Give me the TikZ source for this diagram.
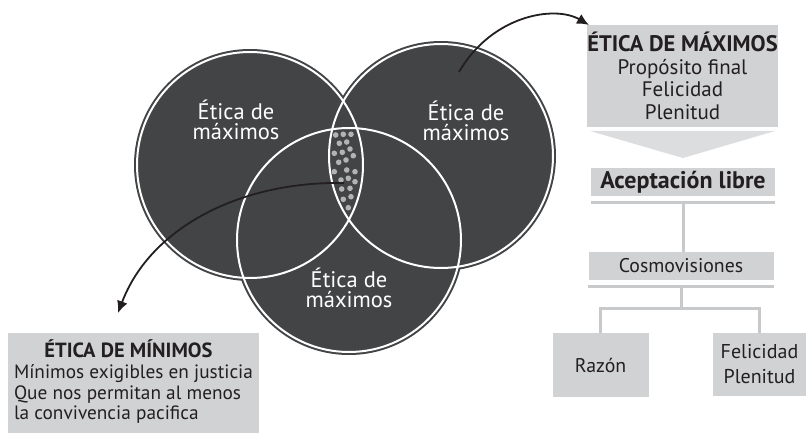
\documentclass[tikz,border=0pt]{standalone}
\usepackage{fontspec}
\setmainfont{PT Sans}
\usetikzlibrary{arrows.meta}
\definecolor{dark}{HTML}{434446}
\definecolor{boxg}{HTML}{D1D2D4}
\definecolor{lineg}{HTML}{C8C9CB}
\definecolor{chev}{HTML}{DCDDDE}
\definecolor{dotg}{HTML}{B2B3B5}
\definecolor{ink}{HTML}{231F20}
\newcommand{\bt}[2][22.5]{{\fontsize{#1}{21}\selectfont\bfseries #2}}
\begin{document}
\begin{tikzpicture}[x=1pt,y=-1pt,
  font=\fontsize{19.8}{20.7}\selectfont,
  gbox/.style={fill=boxg, inner sep=0pt, align=center, text=ink},
  treeline/.style={lineg, line width=3pt},
  curvearrow/.style={ink, line width=1.8pt, -{Latex[length=12pt,width=11pt]}},
  venntext/.style={text=white, align=center, font=\fontsize{22.5}{20.5}\selectfont},
  ring/.style={white, line width=2pt}]
\useasboundingbox (0,0) rectangle (806,433);
% circles
\coordinate (cL) at (250,165);
\coordinate (cR) at (441,156);
\coordinate (cB) at (349,240);
\fill[dark] (cL) circle (116);
\fill[dark] (cR) circle (115);
\fill[dark] (cB) circle (115);
\draw[ring] (cL) circle (113);
\draw[ring] (cR) circle (112);
\draw[ring] (cB) circle (112);
% dots
\foreach \p in {(335.7,135),(343.3,134.3),(351,134.3),
  (339.3,143.3),(346.7,142),
  (334.3,153.3),(342.3,152.3),(350,149),
  (338.7,162.3),(346,160),(353.3,155.7),
  (334.3,171.7),(346.7,170),(355,171.7),
  (341,180),(348.3,178.3),(355,181.7),
  (341.7,189),(350,188.3),
  (343.3,199.3),(351,196.7),
  (348.3,207.7)}
  \fill[dotg] \p circle (2.8);
% circle labels
\node[venntext] (tL) at (236,120) {Ética de\\máximos};
\node[venntext] (tR) at (466,121) {Ética de\\máximos};
\node[venntext] (tB) at (349,288) {Ética de\\máximos};
% top right box
\node[gbox, minimum width=185pt, minimum height=102pt, font=\fontsize{21}{22.5}\selectfont] (max) at (682.5,76)
  {\bt{ÉTICA DE MÁXIMOS}\\Propósito final\\Felicidad\\Plenitud};
\fill[chev] (590,131) -- (775,131) -- (683,158) -- cycle;
\node[gbox, minimum width=184pt, minimum height=28pt] (acc) at (683,182) {\bt[24]{Aceptación libre}};
\node[gbox, minimum width=185pt, minimum height=28pt] (cos) at (681,266) {Cosmovisiones};
\node[gbox, minimum width=96pt, minimum height=64pt] (raz) at (600.5,365) {Razón};
\node[gbox, minimum width=94pt, minimum height=63pt, font=\fontsize{20}{25}\selectfont] (fel) at (759.5,364.5) {Felicidad\\Plenitud};
\coordinate (fork) at (682,308);
\draw[treeline] ([yshift=-6pt]acc.south west) -- ([yshift=-6pt]acc.south east);
\draw[treeline] ([yshift=-6pt]cos.south west) -- ([yshift=-6pt]cos.south east);
\draw[treeline] ([yshift=-7.5pt]acc.south) -- (acc.south |- cos.north);
\draw[treeline] ([yshift=-7.5pt]cos.south) -- (cos.south |- fork);
\draw[treeline] (raz.north) |- (fork) -| (fel.north);
% bottom left box
\node[gbox, minimum width=251pt, minimum height=100pt, font=\fontsize{19.3}{20.7}\selectfont] (min) at (133.5,383)
  {\begin{tabular}{@{}l@{}}\multicolumn{1}{@{}c@{\hspace{10pt}}}{\bt[20.5]{ÉTICA DE MÍNIMOS}}\\
   Mínimos exigibles en justicia\\Que nos permitan al menos\\la convivencia pacifica\end{tabular}};
% arrows
\coordinate (lensS) at (344,183);
\coordinate (minT) at (118,313);
\coordinate (rS) at (459,72);
\coordinate (maxT) at (589,25);
\draw[curvearrow] (lensS) .. controls (240,181) and (150,228) .. (minT);
\draw[curvearrow] (rS) .. controls (492,15) and (555,5) .. (maxT);
\end{tikzpicture}
\end{document}
